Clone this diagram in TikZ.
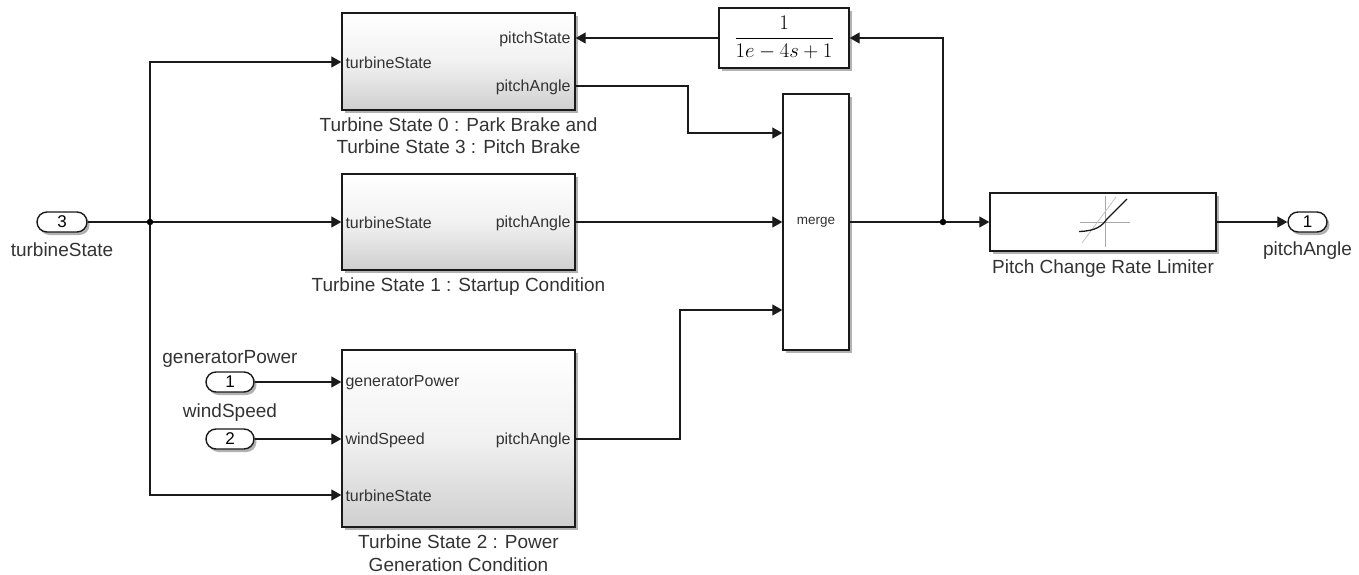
\documentclass[tikz,border=0pt]{standalone}
\usepackage{amsmath}
\usepackage{fontspec}
\setmainfont{Liberation Sans}
\usepackage{xcolor}
\usepackage{tikz}
\usetikzlibrary{arrows.meta, positioning, calc, shadows}
\definecolor{SimInk}{HTML}{1A1A1A}
\definecolor{SimLabel}{HTML}{333333}
\definecolor{SimGray}{HTML}{A8A8A8}
\definecolor{SimBottom}{HTML}{CFCFCF}
\definecolor{SimMiddle}{HTML}{F1F1F1}
\tikzset{
  blockshadow/.style={drop shadow={shadow xshift=2.5pt, shadow yshift=-3pt, opacity=0.3, fill=black}},
  subsystem/.style={draw=SimInk, line width=1.4pt, top color=white, bottom color=SimBottom, middle color=SimMiddle, minimum width=233pt, blockshadow},
  plainblock/.style={draw=SimInk, line width=1.4pt, fill=white, blockshadow},
  portblock/.style={draw=SimInk, line width=1.4pt, fill=white, rounded corners=10pt, minimum height=20pt, inner sep=0pt, font=\fontsize{17}{17}\selectfont, blockshadow},
  portin/.style={anchor=west, inner sep=0pt, xshift=4pt, yshift=-1pt, text=SimLabel, font=\fontsize{16}{16}\selectfont},
  portout/.style={anchor=east, inner sep=0pt, xshift=-5pt, yshift=-1pt, text=SimLabel, font=\fontsize{16}{16}\selectfont},
  caption/.style={align=center, text=SimLabel, inner sep=0pt, font=\fontsize{19}{22.5}\selectfont},
  signal/.style={draw=SimInk, line width=1.2pt, -{Triangle[length=10pt, width=11pt]}},
  wire/.style={draw=SimInk, line width=1.2pt},
  junction/.style={circle, fill=black, inner sep=0pt, minimum size=6.5pt}
}
\begin{document}
\begin{tikzpicture}[x=1pt, y=-1pt]
  \useasboundingbox (0,0) rectangle (1359,575);
  \node[subsystem, minimum height=97pt] (parkBlock) at (458.5,61.5) {};
  \node[subsystem, minimum height=96pt] (startBlock) at (458.5,222) {};
  \node[subsystem, minimum height=177pt] (powerBlock) at (458.5,438.5) {};
  \node[plainblock, minimum width=130pt, minimum height=60pt, inner sep=0pt] (lagBlock) at (784,38) {\fontsize{21.5}{25}\selectfont$\dfrac{1}{1e-4s+1}$};
  \node[plainblock, minimum width=66pt, minimum height=256pt, inner sep=0pt, text=SimLabel, font=\fontsize{13.5}{14}\selectfont] (mergeBlock) at (816,222) {merge};
  \node[plainblock, minimum width=226pt, minimum height=58pt] (limitBlock) at (1103,222) {};
  \node[portblock, minimum width=50pt] (statePort) at (62,222) {3};
  \node[portblock, minimum width=48pt] (powerPort) at (230,382) {1};
  \node[portblock, minimum width=48pt] (windPort) at (230,439) {2};
  \node[portblock, minimum width=39pt] (anglePort) at (1307.5,222) {1};
  \node[caption, below=10pt of statePort] (stateLabel) {turbineState};
  \node[caption, above=4pt of powerPort] (powerLabel) {generatorPower};
  \node[caption, above=7pt of windPort] (windLabel) {windSpeed};
  \node[caption, below=9pt of anglePort] (angleLabel) {pitchAngle};
  \node[caption, below=6.5pt of parkBlock] (parkLabel) {Turbine State 0 : Park Brake and\\Turbine State 3 : Pitch Brake};
  \node[caption, below=7pt of startBlock] (startLabel) {Turbine State 1 : Startup Condition};
  \node[caption, below=7pt of powerBlock] (powerBlockLabel) {Turbine State 2 : Power\\Generation Condition};
  \node[caption, below=8pt of limitBlock] (limitLabel) {Pitch Change Rate Limiter};
  \node[portin] (parkIn) at (parkBlock.west |- 0,62) {turbineState};
  \node[portout] (parkPitch) at (parkBlock.east |- 0,38) {pitchState};
  \node[portout] (parkOut) at (parkBlock.east |- 0,86) {pitchAngle};
  \node[portin] (startIn) at (startBlock.west |- 0,222) {turbineState};
  \node[portout] (startOut) at (startBlock.east |- 0,222) {pitchAngle};
  \node[portin] (powerIn) at (powerBlock.west |- 0,382) {generatorPower};
  \node[portin] (windIn) at (powerBlock.west |- 0,439) {windSpeed};
  \node[portin] (stateIn) at (powerBlock.west |- 0,495) {turbineState};
  \node[portout] (powerOut) at (powerBlock.east |- 0,439) {pitchAngle};
  \node[junction] (stateJoint) at (150,222) {};
  \node[junction] (mergeJoint) at (943,222) {};
  \coordinate (mergeTop) at (mergeBlock.west |- 0,133);
  \coordinate (mergeLow) at (mergeBlock.west |- 0,310);
  \draw[wire] (statePort.east) -- (stateJoint);
  \draw[signal] (stateJoint) -- (startBlock.west);
  \draw[signal] (stateJoint) |- (parkBlock.west |- 0,62);
  \draw[signal] (stateJoint) |- (powerBlock.west |- 0,495);
  \draw[signal] (powerPort.east) -- (powerBlock.west |- 0,382);
  \draw[signal] (windPort.east) -- (powerBlock.west |- 0,439);
  \draw[signal] (parkBlock.east |- 0,86) -| (688,133) -- (mergeTop);
  \draw[signal] (startBlock.east) -- (mergeBlock.west);
  \draw[signal] (powerBlock.east |- 0,439) -| (680,310) -- (mergeLow);
  \draw[wire] (mergeBlock.east) -- (mergeJoint);
  \draw[signal] (mergeJoint) -- (limitBlock.west);
  \draw[signal] (mergeJoint) |- (lagBlock.east);
  \draw[signal] (lagBlock.west) -- (parkBlock.east |- 0,38);
  \draw[signal] (limitBlock.east) -- (anglePort.west);
  \draw[SimGray, line width=0.8pt] (1080,222) -- (1130,222);
  \draw[SimGray, line width=0.8pt] (1105,196) -- (1105,247);
  \draw[SimGray!70, line width=0.8pt] (1082,243) -- (1116,197);
  \draw[SimInk, line width=1.3pt] (1079,231.5) .. controls (1096,231) and (1102,226) .. (1107,219) -- (1127,199);
\end{tikzpicture}
\end{document}
